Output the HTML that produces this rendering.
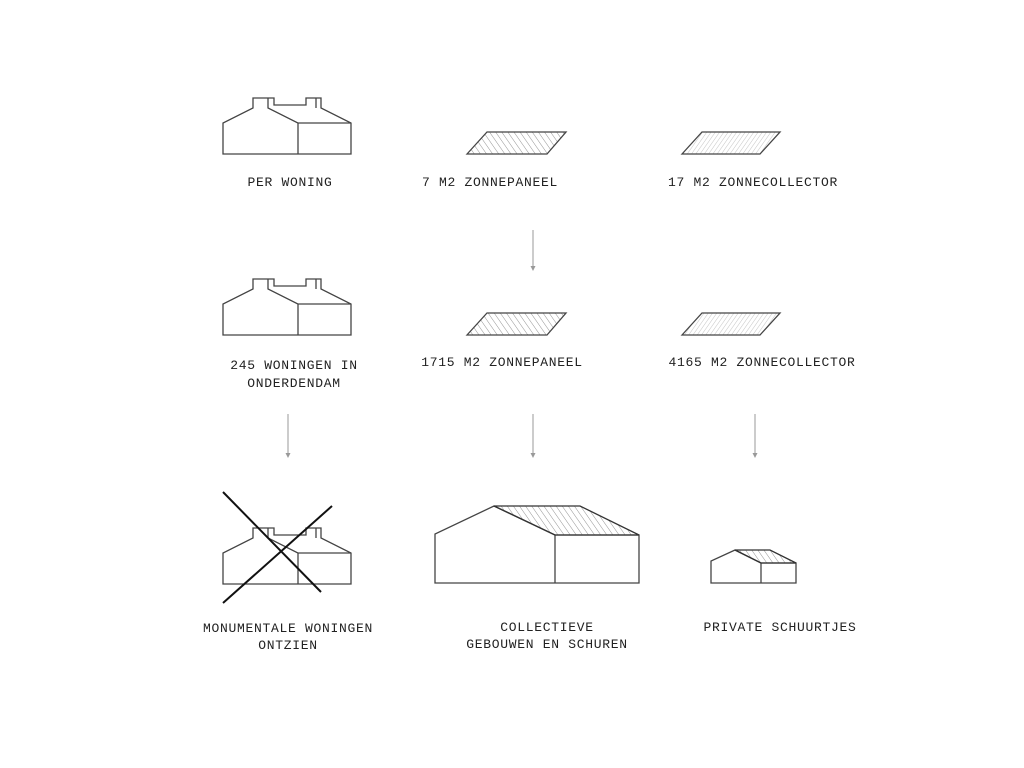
<!DOCTYPE html>
<html><head><meta charset="utf-8"><style>
html,body{margin:0;padding:0;background:#fff;}
svg{display:block}
text{font-family:"Liberation Mono",monospace;font-size:13px;letter-spacing:0.7px;fill:#222;text-anchor:middle}
</style></head><body>
<svg width="1024" height="768" viewBox="0 0 1024 768" xmlns="http://www.w3.org/2000/svg">
<defs>
<pattern id="h1" width="5" height="5" patternUnits="userSpaceOnUse" patternTransform="rotate(-35)">
<line x1="0" y1="0" x2="0" y2="5" stroke="#777" stroke-width="0.8"/></pattern>
<pattern id="h2" width="3.5" height="5" patternUnits="userSpaceOnUse" patternTransform="rotate(35)">
<line x1="0" y1="0" x2="0" y2="5" stroke="#aaa" stroke-width="0.7"/></pattern>
<g id="house" fill="none" stroke="#444" stroke-width="1.3">
<path d="M223,154 V123 L253,108 V98 H274 V105 H306 V98 H321 V108 L351,123 V154 Z"/>
<path d="M268,98 V108 L298,123 V154 M298,123 H351 M316,98 V108"/>
</g>
</defs>
<rect width="1024" height="768" fill="#fff"/>
<use href="#house"/>
<use href="#house" y="181"/>
<use href="#house" y="430"/>
<line x1="223" y1="492" x2="321" y2="592" stroke="#111" stroke-width="2"/>
<line x1="332" y1="506" x2="223" y2="603" stroke="#111" stroke-width="2"/>

<g stroke="#444" stroke-width="1.3">
<polygon points="467,154 487,132 566,132 547,154" fill="url(#h1)"/>
<polygon points="682,154 702,132 780,132 760,154" fill="url(#h2)"/>
<polygon points="467,335 487,313 566,313 547,335" fill="url(#h1)"/>
<polygon points="682,335 702,313 780,313 760,335" fill="url(#h2)"/>
</g>

<g fill="none" stroke="#444" stroke-width="1.3">
<path d="M435,583 V534 L494,506 L555,535 V583 Z M555,535 H639 V583 H555"/>
<polygon points="494,506 580,506 639,535 555,535" fill="url(#h1)" stroke="#333"/>
<path d="M711,583 V561 L735,550 L761,563 V583 Z M761,563 H796 V583 H761"/>
<polygon points="735,550 770,550 796,563 761,563" fill="url(#h1)" stroke="#333"/>
</g>

<g stroke="#999" stroke-width="1">
<line x1="533" y1="230" x2="533" y2="270"/>
<line x1="288" y1="414" x2="288" y2="457"/>
<line x1="533" y1="414" x2="533" y2="457"/>
<line x1="755" y1="414" x2="755" y2="457"/>
</g>
<g fill="#999">
<path d="M530.5,266 L533,271 L535.5,266 Z"/>
<path d="M285.5,453 L288,458 L290.5,453 Z"/>
<path d="M530.5,453 L533,458 L535.5,453 Z"/>
<path d="M752.5,453 L755,458 L757.5,453 Z"/>
</g>

<text x="290" y="186">PER WONING</text>
<text x="490" y="186">7 M2 ZONNEPANEEL</text>
<text x="753" y="186">17 M2 ZONNECOLLECTOR</text>
<text x="294" y="369">245 WONINGEN IN</text>
<text x="294" y="387">ONDERDENDAM</text>
<text x="502" y="366">1715 M2 ZONNEPANEEL</text>
<text x="762" y="366">4165 M2 ZONNECOLLECTOR</text>
<text x="288" y="632">MONUMENTALE WONINGEN</text>
<text x="288" y="649">ONTZIEN</text>
<text x="547" y="631">COLLECTIEVE</text>
<text x="547" y="648">GEBOUWEN EN SCHUREN</text>
<text x="780" y="631">PRIVATE SCHUURTJES</text>
</svg>
</body></html>
